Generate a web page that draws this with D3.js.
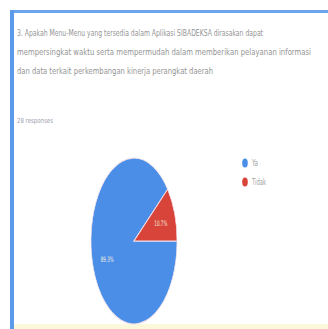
<!DOCTYPE html>
<html>
<head>
<meta charset="utf-8">
<script src="https://cdn.jsdelivr.net/npm/d3@7"></script>
<style>
body { margin: 0; background: #fff; }
text { font-family: "Liberation Sans Narrow", "DejaVu Sans Condensed", "Liberation Sans", sans-serif; }
</style>
</head>
<body>
<svg class="chart"></svg>
<script>
var width = 328, height = 329;

var titleLines = [
	"3. Apakah Menu-Menu yang tersedia dalam Aplikasi SIBADEKSA dirasakan dapat",
	"mempersingkat waktu serta mempermudah dalam memberikan pelayanan informasi",
	"dan data terkait perkembangan kinerja perangkat daerah"
];
var titleEnds = [263, 311, 213];
var responses = "28 responses";

var categories = ["Ya", "Tidak"];
var values = [89.3, 10.7];
var colors = ["#4a8ee8", "#d9443a"];

var svg = d3.select(".chart")
	.attr("width", width)
	.attr("height", height);

// card frame
svg.append("rect").attr("x", 14).attr("y", 324).attr("width", width - 14).attr("height", 5).attr("fill", "#fbf8dc");
svg.append("rect").attr("x", 10).attr("y", 10).attr("width", width - 10).attr("height", 3).attr("fill", "#6aa5ee");
svg.append("rect").attr("x", 10).attr("y", 10).attr("width", 4).attr("height", height - 10).attr("fill", "#5b9be9");

svg.selectAll(".title")
	.data(titleLines)
	.enter()
	.append("text")
	.attr("class", "title")
	.attr("x", 17)
	.attr("y", (d, i) => 36 + i * 19)
	.attr("font-size", 8)
	.attr("fill", "#959595")
	.attr("textLength", (d, i) => titleEnds[i] - 17)
	.attr("lengthAdjust", "spacingAndGlyphs")
	.text(d => d);

svg.append("text")
	.attr("x", 17)
	.attr("y", 123)
	.attr("font-size", 7)
	.attr("fill", "#a0a0b0")
	.attr("textLength", 36)
	.attr("lengthAdjust", "spacingAndGlyphs")
	.text(responses);

// pie (squashed horizontally like the screenshot)
var cx = 134, cy = 241, rx = 43, ry = 83;
var sx = rx / ry;

var pie = d3.pie()
	.sort(null)
	.startAngle(Math.PI / 2)
	.endAngle(Math.PI / 2 + 2 * Math.PI);

var arcs = pie(values);
var arc = d3.arc().innerRadius(0).outerRadius(ry);
var labelArc = d3.arc().innerRadius(ry * 0.66).outerRadius(ry * 0.66);

var g = svg.append("g")
	.attr("transform", "translate(" + cx + "," + cy + ") scale(" + sx + ",1)");

g.selectAll(".slice")
	.data(arcs)
	.enter()
	.append("path")
	.attr("class", "slice")
	.attr("d", arc)
	.attr("fill", (d, i) => colors[i])
	.attr("stroke", "#f4e4ea")
	.attr("stroke-width", 1.2);

svg.selectAll(".plabel")
	.data(arcs)
	.enter()
	.append("text")
	.attr("class", "plabel")
	.attr("x", d => cx + labelArc.centroid(d)[0] * sx)
	.attr("y", d => cy + labelArc.centroid(d)[1] + 3)
	.attr("text-anchor", "middle")
	.attr("font-size", 7.5)
	.attr("fill", "#f3eedf")
	.attr("textLength", 13)
	.attr("lengthAdjust", "spacingAndGlyphs")
	.text(d => d.data.toFixed(1) + "%");

// legend
var legend = svg.selectAll(".legend")
	.data(categories)
	.enter()
	.append("g")
	.attr("class", "legend")
	.attr("transform", (d, i) => "translate(245," + (163 + i * 19) + ")");

legend.append("ellipse")
	.attr("rx", 2.8)
	.attr("ry", 4.5)
	.attr("fill", (d, i) => colors[i]);

legend.append("text")
	.attr("x", 7)
	.attr("y", 3)
	.attr("font-size", 8)
	.attr("fill", "#a0a0a0")
	.attr("textLength", (d, i) => i == 0 ? 6 : 14)
	.attr("lengthAdjust", "spacingAndGlyphs")
	.text(d => d);
</script>
</body>
</html>
